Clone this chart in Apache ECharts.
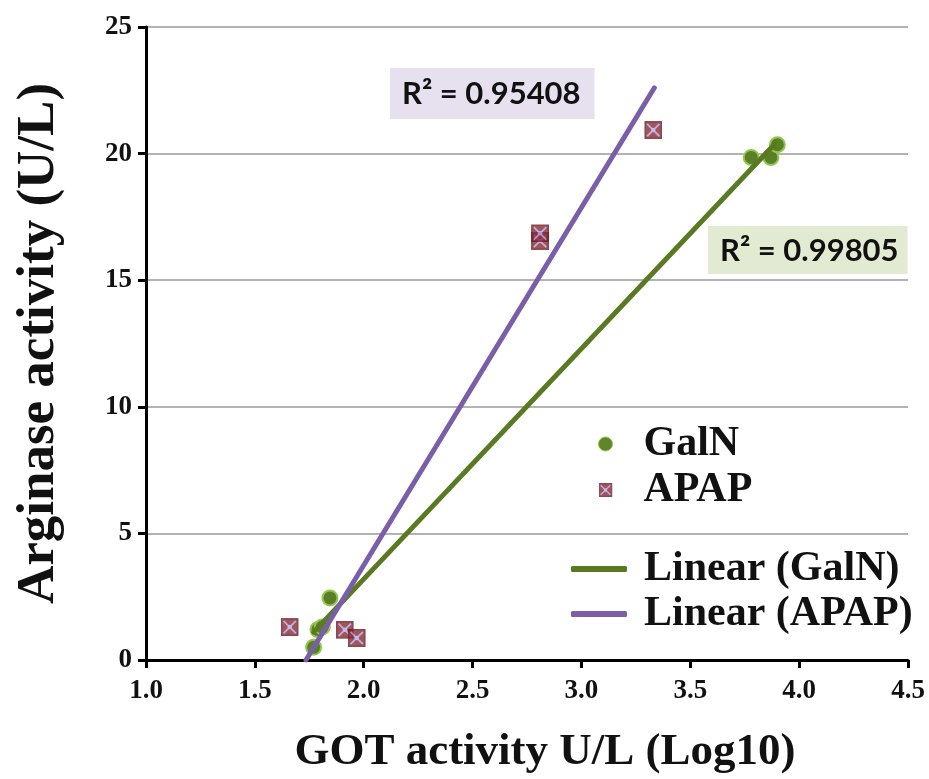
<!DOCTYPE html>
<html>
<head>
<meta charset="utf-8">
<script src="https://cdn.jsdelivr.net/npm/echarts@6/dist/echarts.min.js"></script>
<style>
    html, body { margin: 0; padding: 0; background: #fff; }
    #arginase_chart { width: 929px; height: 779px; }
</style>
</head>
<body>
<div id="arginase_chart"></div>
<script>
// GalN points (GOT log10, arginase U/L)
const galnX = [1.77, 1.79, 1.81, 1.845, 3.78, 3.87, 3.90];
const galnY = [0.5, 1.2, 1.3, 2.45, 19.85, 19.85, 20.35];
// APAP points
const apapX = [1.66, 1.913, 1.968, 2.81, 2.81, 3.33];
const apapY = [1.3, 1.19, 0.87, 16.55, 16.85, 20.93];
// trendline ends as drawn in the figure
const galnFitX = [1.77, 3.89];
const galnFitY = [1.1, 20.4];
const apapFitX = [1.735, 3.335];
const apapFitY = [0, 22.6];
const r2Labels = ["R\u00b2 = 0.95408", "R\u00b2 = 0.99805"];

const serif = "'Liberation Serif', 'Times New Roman', serif";
const sans = "Lato, 'Open Sans', sans-serif";

const apapSvg = '<svg xmlns="http://www.w3.org/2000/svg" width="16" height="16" viewBox="0 0 16 16">' +
    '<rect x="0.75" y="0.75" width="14.5" height="14.5" fill="#8a2b33" stroke="#6e1c22" stroke-width="1.5"/>' +
    '<path d="M2.5 2.5 L13.5 13.5 M13.5 2.5 L2.5 13.5" stroke="#a99be0" stroke-width="1.6"/>' +
    '<circle cx="8" cy="8" r="2" fill="#b7a9ec"/></svg>';
const apapSymbol = "image://data:image/svg+xml;utf8," + encodeURIComponent(apapSvg);

function pairs(xs, ys) {
    return xs.map(function(x, i) { return [x, ys[i]]; });
}

const chart = echarts.init(document.getElementById("arginase_chart"));
chart.setOption({
    animation: false,
    backgroundColor: "#fff",
    title: [
        {
            text: r2Labels[0],
            left: 390, top: 68,
            backgroundColor: "#e6e0ef",
            padding: [10, 14, 10, 12],
            textStyle: { fontFamily: sans, fontWeight: "bold", fontSize: 31, color: "#111" }
        },
        {
            text: r2Labels[1],
            left: 708, top: 226,
            backgroundColor: "#e2ebd2",
            padding: [9, 9, 8, 12],
            textStyle: { fontFamily: sans, fontWeight: "bold", fontSize: 31, color: "#111" }
        }
    ],
    legend: [
        {
            data: [
                { name: "GalN", icon: "circle", itemStyle: { color: "#5f862a", borderColor: "#8fc84a", borderWidth: 1 } },
                { name: "APAP", icon: apapSymbol }
            ],
            orient: "vertical",
            left: 593, top: 418,
            itemWidth: 14, itemHeight: 14,
            itemGap: 4,
            textStyle: { fontFamily: serif, fontWeight: "bold", fontSize: 42, color: "#111", padding: [0, 0, 0, 26] }
        },
        {
            data: [
                { name: "Linear (GalN)", icon: "roundRect" },
                { name: "Linear (APAP)", icon: "roundRect" }
            ],
            orient: "vertical",
            left: 566, top: 543,
            itemWidth: 56, itemHeight: 6,
            itemGap: 3,
            textStyle: { fontFamily: serif, fontWeight: "bold", fontSize: 42, color: "#111", padding: [0, 0, 0, 12] }
        }
    ],
    grid: { left: 146, right: 21, top: 27, bottom: 119, containLabel: false, outerBoundsMode: "none" },
    xAxis: {
        type: "value",
        min: 1, max: 4.5, interval: 0.5,
        name: "GOT activity U/L (Log10)",
        nameLocation: "middle",
        nameGap: 70,
        nameTextStyle: { fontFamily: serif, fontWeight: "bold", fontSize: 45, color: "#111", padding: [0, 0, 0, 36] },
        axisLine: { show: true, onZero: false, lineStyle: { color: "#000", width: 3 } },
        axisTick: { show: true, length: 8, lineStyle: { color: "#000", width: 3 } },
        axisLabel: {
            fontFamily: serif, fontWeight: "bold", fontSize: 27, color: "#111", margin: 18,
            formatter: function(v) { return v.toFixed(1); }
        },
        splitLine: { show: false }
    },
    yAxis: {
        type: "value",
        min: 0, max: 25, interval: 5,
        name: "Arginase activity (U/L)",
        nameLocation: "middle",
        nameGap: 80,
        nameTextStyle: { fontFamily: serif, fontWeight: "bold", fontSize: 53, color: "#111" },
        axisLine: { show: true, lineStyle: { color: "#000", width: 3 } },
        axisTick: { show: true, length: 8, lineStyle: { color: "#000", width: 3 } },
        axisLabel: { fontFamily: serif, fontWeight: "bold", fontSize: 27, color: "#111", margin: 14 },
        splitLine: { show: true, lineStyle: { color: "#b3b3b3", width: 2 } }
    },
    series: [
        {
            name: "GalN",
            type: "scatter",
            data: pairs(galnX, galnY),
            symbol: "circle",
            symbolSize: 15,
            itemStyle: { color: "#5a7f27", borderColor: "#8fc84a", borderWidth: 2, opacity: 1 },
            z: 2
        },
        {
            name: "APAP",
            type: "scatter",
            data: pairs(apapX, apapY),
            symbol: apapSymbol,
            symbolSize: 18,
            z: 2
        },
        {
            name: "Linear (GalN)",
            type: "line",
            data: pairs(galnFitX, galnFitY),
            symbol: "none",
            lineStyle: { color: "#5a7a22", width: 5, cap: "round" },
            itemStyle: { color: "#5a7a22" },
            z: 3
        },
        {
            name: "Linear (APAP)",
            type: "line",
            data: pairs(apapFitX, apapFitY),
            symbol: "none",
            lineStyle: { color: "#7a5ea8", width: 5, cap: "round" },
            itemStyle: { color: "#7a5ea8" },
            z: 4
        }
    ]
});
window.addEventListener("resize", function() {
    chart.resize();
});
</script>
</body>
</html>
